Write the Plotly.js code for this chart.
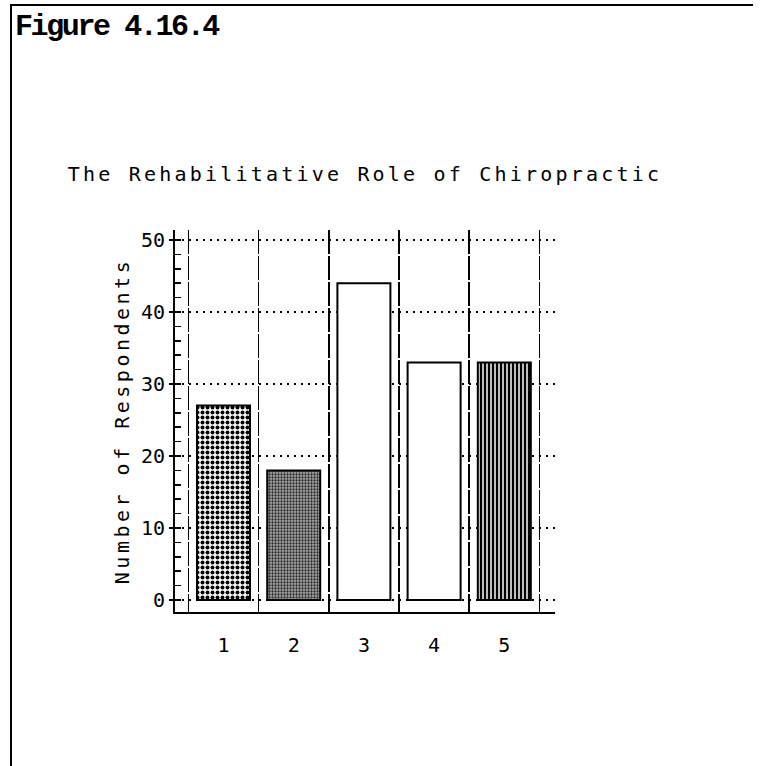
<!DOCTYPE html>
<html>
<head>
<meta charset="utf-8">
<script src="https://cdn.plot.ly/plotly-3.0.1.min.js"></script>
<style>
  html, body { margin: 0; padding: 0; background: #fff; overflow: hidden; }
  #chart { width: 762px; height: 766px; }
  .gtitle { letter-spacing: 3.2px; }
  .ytitle { letter-spacing: 3.5px; }
  .annotation-text { letter-spacing: -2.4px; }
</style>
</head>
<body>
<div id="chart"></div>
<script>
// Data
const categories = [1, 2, 3, 4, 5];
const categoryLabels = ['1', '2', '3', '4', '5'];
const respondents = [27, 18, 44, 33, 33];

// Category boundaries (vertical grid) derived from the categories
const boundaries = categories.map(c => c - 0.5).concat([categories[categories.length - 1] + 0.5]);

// Styles (kept separate from data)
const fillColors = ['#ffffff', '#a8a8a8', '#ffffff', '#ffffff', '#bdbdbd'];
const patternShapes = ['.', '.', '', '', '|'];
const patternFg = ['#000000', '#2a2a2a', '#000000', '#000000', '#000000'];
const patternSizes = [5, 3, 8, 8, 4];
const patternSolidity = [0.5, 0.45, 0.3, 0.3, 0.5];

const monoFont = { family: 'DejaVu Sans Mono', size: 20, color: '#000' };

const traces = categories.map((c, i) => ({
  type: 'bar',
  x: [c],
  y: [respondents[i]],
  width: 0.755,
  marker: {
    color: fillColors[i],
    line: { color: '#000', width: 2 },
    pattern: {
      shape: patternShapes[i],
      fgcolor: patternFg[i],
      bgcolor: fillColors[i],
      fgopacity: 1,
      size: patternSizes[i],
      solidity: patternSolidity[i]
    }
  },
  hoverinfo: 'none'
}));

// Page frame (scanned page border), expressed in paper fractions of the plot area
const plotL = 175, plotW = 380, plotB = 612, plotH = 382;
const px = v => (v - plotL) / plotW;
const py = v => (plotB - v) / plotH;

const layout = {
  width: 762,
  height: 766,
  margin: { l: 175, r: 207, t: 230, b: 154, pad: 0 },
  paper_bgcolor: '#fff',
  plot_bgcolor: '#fff',
  showlegend: false,
  barmode: 'overlay',
  title: {
    text: 'The Rehabilitative Role of Chiropractic',
    font: monoFont,
    xref: 'paper', x: 0.5, xanchor: 'center',
    yref: 'container', y: 1 - 174 / 766, yanchor: 'middle'
  },
  xaxis: {
    range: [0.309, 5.722],
    tickmode: 'array',
    tickvals: categories,
    ticktext: categoryLabels,
    ticks: '',
    showgrid: false,
    zeroline: false,
    showline: true,
    linecolor: '#000',
    linewidth: 2,
    ticklabelstandoff: 14,
    tickfont: monoFont,
    minor: {
      tickmode: 'array',
      tickvals: boundaries,
      ticks: '',
      showgrid: true,
      gridcolor: '#000',
      gridwidth: 1.5,
      griddash: '24px,2px'
    },
    fixedrange: true
  },
  yaxis: {
    range: [-1.667, 51.39],
    tickmode: 'linear',
    tick0: 0,
    dtick: 10,
    showgrid: true,
    gridcolor: '#000',
    gridwidth: 2,
    griddash: '2px,5px',
    zeroline: false,
    showline: true,
    linecolor: '#000',
    linewidth: 2,
    ticks: 'outside',
    ticklen: 4,
    tickwidth: 2,
    tickcolor: '#000',
    ticklabelstandoff: 0,
    tickfont: monoFont,
    title: { text: 'Number of Respondents', font: monoFont, standoff: 6 },
    minor: {
      dtick: 2,
      ticks: 'inside',
      ticklen: 6,
      tickwidth: 1.5,
      tickcolor: '#000',
      showgrid: false
    },
    fixedrange: true
  },
  shapes: [
    { type: 'line', xref: 'paper', yref: 'paper', x0: px(10), x1: px(753), y0: py(5), y1: py(5),
      line: { color: '#000', width: 2 } },
    { type: 'line', xref: 'paper', yref: 'paper', x0: px(11), x1: px(11), y0: py(4), y1: py(770),
      line: { color: '#000', width: 2 } }
  ],
  annotations: [{
    text: '<b>Figure 4.16.4</b>',
    xref: 'paper', yref: 'paper',
    x: px(13), y: py(8),
    xanchor: 'left', yanchor: 'top',
    showarrow: false,
    font: { family: 'Liberation Mono', size: 30, color: '#000' }
  }]
};

Plotly.newPlot('chart', traces, layout, { staticPlot: true, displayModeBar: false });
</script>
</body>
</html>
